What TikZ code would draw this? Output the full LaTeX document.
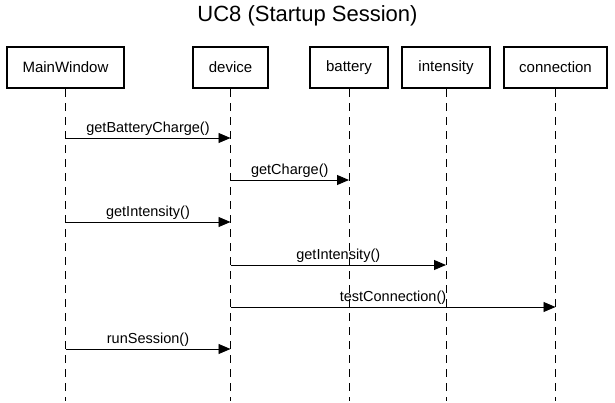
\documentclass[tikz,border=0pt]{standalone}
\usepackage{fontspec}
\setmainfont{Liberation Sans}
\usetikzlibrary{arrows.meta}
\tikzset{actor/.style={rectangle, draw, line width=2pt, minimum height=41pt, inner sep=0pt, font=\fontsize{15}{17}\selectfont}}
\tikzset{lifeline/.style={draw, line width=0.9pt, dash pattern=on 8pt off 6pt}}
\tikzset{msg/.style={draw, line width=0.9pt, -{Triangle[length=12pt,width=10pt]}}}

\begin{document}
\begin{tikzpicture}[x=1pt,y=-1pt]
  \useasboundingbox (0,0) rectangle (615,402);
  \node[font=\fontsize{22}{26}\selectfont] (title) at (307.5,16) {UC8 (Startup Session)};
  \foreach \x/\w/\lab/\txt in {
    65.5/117/MainWindow/MainWindow,
    230.5/75/device/device,
    349/78/battery/battery,
    446/88/intensity/intensity,
    555.5/103/connection/connection%
  } {
    \node[actor, minimum width=\w pt] (\lab) at (\x, 67.5) {\txt};
    \coordinate (\lab-end) at (\x, 401);
    \draw[lifeline] (\lab) -- (\lab-end);
  }
  \foreach \u/\v/\y/\txt in {
    MainWindow/device/138/getBatteryCharge(),
    device/battery/180/getCharge(),
    MainWindow/device/222/getIntensity(),
    device/intensity/265/getIntensity(),
    device/connection/307/testConnection(),
    MainWindow/device/349/runSession()%
  }{
    \draw[msg] (\u |- 0,\y) -- (\v |- 0,\y)
      node[midway, above, inner sep=2pt, font=\fontsize{14.5}{17}\selectfont] {\txt};
  }
\end{tikzpicture}
\end{document}
